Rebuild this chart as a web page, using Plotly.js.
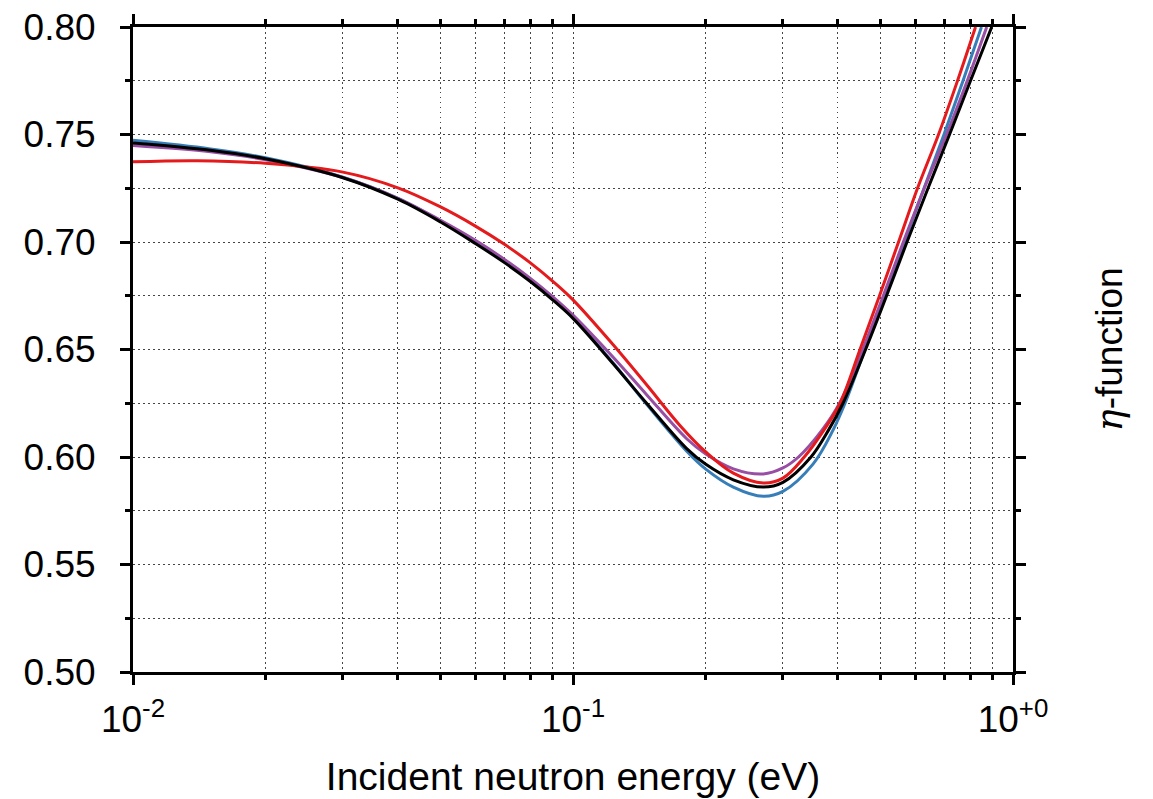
<!DOCTYPE html>
<html>
<head>
<meta charset="utf-8">
<script src="https://cdn.plot.ly/plotly-3.0.1.min.js"></script>
<style>html,body{margin:0;padding:0;background:#fff;}#chart{width:1153px;height:799px;}</style>
</head>
<body>
<div id="chart"></div>
<script>
// Incident neutron energy (eV) and eta-function values
const blueE = [0.01, 0.015, 0.02, 0.03, 0.04, 0.05, 0.06, 0.07, 0.08, 0.09, 0.1, 0.1234, 0.147, 0.1813, 0.2, 0.2314, 0.2708, 0.3, 0.3511, 0.3899, 0.4152, 0.4609, 0.5119, 0.5668, 0.6278, 0.6969, 0.7699, 0.848];
const blueEta = [0.7473, 0.7433, 0.7392, 0.7302, 0.7203, 0.7097, 0.6997, 0.6907, 0.6820, 0.6734, 0.6649, 0.6437, 0.6245, 0.6027, 0.5945, 0.5860, 0.5817, 0.5840, 0.5967, 0.6125, 0.625, 0.65, 0.675, 0.70, 0.725, 0.75, 0.775, 0.80];

const purpleE = [0.01, 0.015, 0.02, 0.03, 0.04, 0.05, 0.06, 0.07, 0.08, 0.09, 0.1, 0.1234, 0.147, 0.1813, 0.2, 0.2314, 0.2708, 0.3, 0.3254, 0.3681, 0.4034, 0.4555, 0.5072, 0.5633, 0.6285, 0.7064, 0.7872, 0.8715];
const purpleEta = [0.7449, 0.7420, 0.7383, 0.7300, 0.7203, 0.7101, 0.7008, 0.6918, 0.6831, 0.6745, 0.6660, 0.6464, 0.6290, 0.6085, 0.6015, 0.5945, 0.5921, 0.5949, 0.600, 0.6125, 0.625, 0.65, 0.675, 0.70, 0.725, 0.75, 0.775, 0.80];

const redE = [0.01, 0.014, 0.02, 0.03, 0.04, 0.05, 0.06, 0.07, 0.08, 0.09, 0.1, 0.1234, 0.147, 0.175, 0.2, 0.2314, 0.2708, 0.3, 0.3354, 0.3717, 0.4045, 0.449, 0.4973, 0.5494, 0.6067, 0.6772, 0.748, 0.8219];
const redEta = [0.7373, 0.7378, 0.7366, 0.7325, 0.7252, 0.7163, 0.7074, 0.6988, 0.6903, 0.6817, 0.6731, 0.6522, 0.6336, 0.6147, 0.6025, 0.5925, 0.5879, 0.5902, 0.600, 0.6125, 0.625, 0.65, 0.675, 0.70, 0.725, 0.75, 0.775, 0.80];

const blackE = [0.01, 0.015, 0.02, 0.03, 0.04, 0.05, 0.06, 0.07, 0.08, 0.09, 0.1, 0.1234, 0.147, 0.1813, 0.2, 0.2314, 0.2708, 0.3, 0.3474, 0.3808, 0.4108, 0.4623, 0.516, 0.5742, 0.641, 0.7174, 0.8006, 0.8946];
const blackEta = [0.7461, 0.7427, 0.7387, 0.7299, 0.7199, 0.7093, 0.6993, 0.6903, 0.6816, 0.6730, 0.6645, 0.6434, 0.6250, 0.6039, 0.5967, 0.5894, 0.5860, 0.5882, 0.600, 0.6125, 0.625, 0.65, 0.675, 0.70, 0.725, 0.75, 0.775, 0.80];

const xTickVals = [0.01, 0.1, 1];
const xTickText = ['10<sup>-2</sup>', '10<sup>-1</sup>', '10<sup>+0</sup>'];
const yTickVals = [0.50, 0.55, 0.60, 0.65, 0.70, 0.75, 0.80];
const yTickText = ['0.50', '0.55', '0.60', '0.65', '0.70', '0.75', '0.80'];

const FONT = 'Liberation Sans, Arial, Helvetica, sans-serif';
const GRID = '#444444';
const DASH = '1.5px,3.5px';

function line(x, y, color, name) {
  return {x: x, y: y, type: 'scatter', mode: 'lines', name: name,
    line: {color: color, width: 3, shape: 'spline', smoothing: 1}, hoverinfo: 'skip'};
}

const data = [
  line(blueE, blueEta, '#377eb8', 'blue'),
  line(purpleE, purpleEta, '#984ea3', 'purple'),
  line(redE, redEta, '#e41a1c', 'red'),
  line(blackE, blackEta, '#000000', 'black')
];

const layout = {
  width: 1153, height: 799,
  margin: {l: 133, r: 140, t: 27, b: 127, pad: 0},
  paper_bgcolor: '#ffffff', plot_bgcolor: '#ffffff',
  showlegend: false,
  font: {family: FONT, size: 37, color: '#000'},
  xaxis: {
    type: 'log', range: [-2, 0],
    tickmode: 'array', tickvals: xTickVals, ticktext: xTickText,
    ticks: 'outside', ticklen: 10, tickwidth: 3, tickcolor: '#000',
    ticklabelstandoff: 3,
    showline: true, linewidth: 3, linecolor: '#000', mirror: 'ticks',
    showgrid: true, gridcolor: GRID, gridwidth: 1, griddash: DASH,
    zeroline: false,
    tickfont: {family: FONT, size: 37, color: '#000'},
    minor: {dtick: 'D1', ticks: 'outside', ticklen: 5, tickwidth: 3, tickcolor: '#000',
      showgrid: true, gridcolor: GRID, gridwidth: 1, griddash: DASH},
    title: {text: 'Incident neutron energy (eV)', font: {family: FONT, size: 39, color: '#000'}, standoff: 24}
  },
  yaxis: {
    range: [0.5, 0.8],
    tickmode: 'array', tickvals: yTickVals, ticktext: yTickText,
    ticks: 'outside', ticklen: 10, tickwidth: 3, tickcolor: '#000',
    ticklabelstandoff: 17,
    showline: true, linewidth: 3, linecolor: '#000', mirror: 'ticks',
    showgrid: true, gridcolor: GRID, gridwidth: 1, griddash: DASH,
    zeroline: false,
    tickfont: {family: FONT, size: 37, color: '#000'},
    minor: {dtick: 0.025, ticks: 'outside', ticklen: 5, tickwidth: 3, tickcolor: '#000',
      showgrid: true, gridcolor: GRID, gridwidth: 1, griddash: DASH}
  },
  annotations: [{
    xref: 'paper', yref: 'paper', x: 1, y: 0.5, xshift: 96,
    xanchor: 'center', yanchor: 'middle', textangle: -90, showarrow: false,
    text: '<span style="font-family:DejaVu Serif;font-style:italic">η</span>-function',
    font: {family: FONT, size: 37, color: '#000'}
  }]
};

Plotly.newPlot('chart', data, layout, {staticPlot: true, displayModeBar: false});
</script>
</body>
</html>
